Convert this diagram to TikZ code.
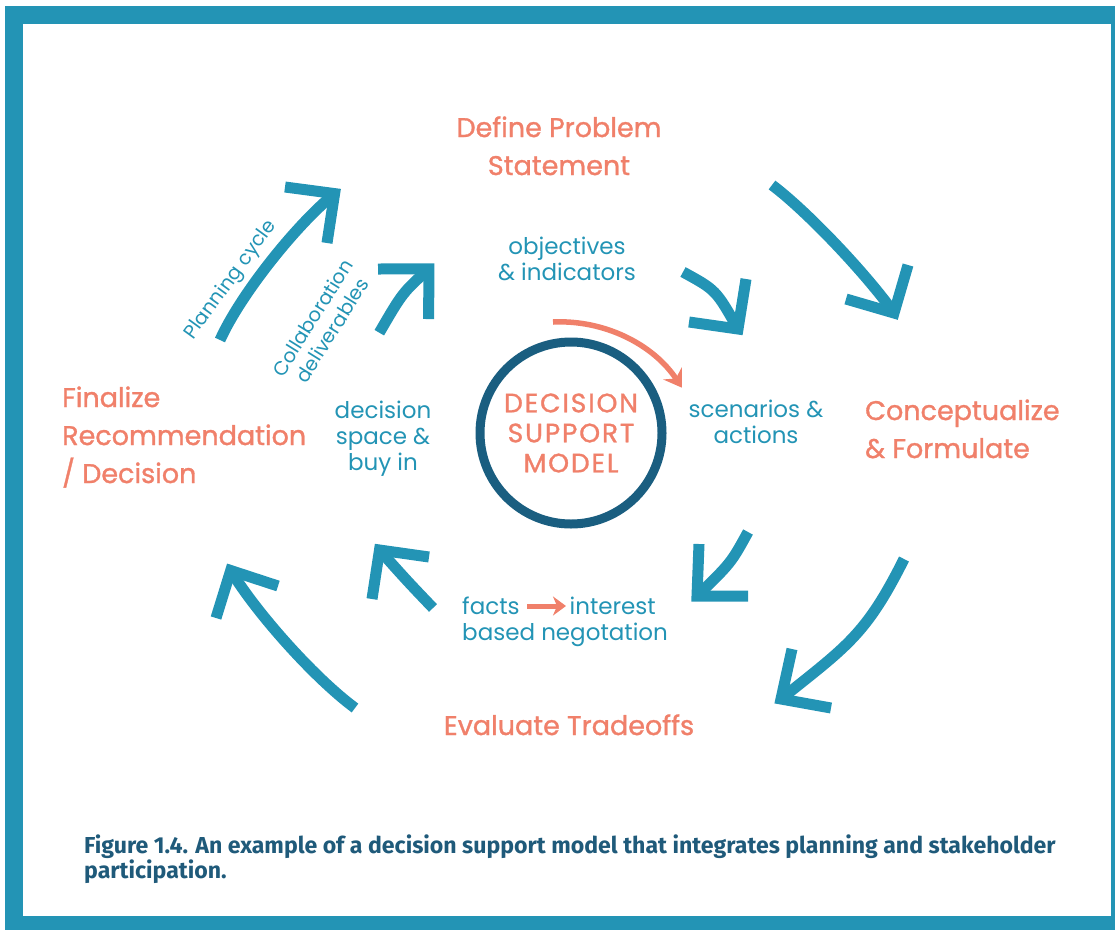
\documentclass[tikz,border=0pt]{standalone}
\usepackage{fontspec}
\setmainfont{Poppins}
\newfontfamily\headfont{Poppins}[FakeBold=1.2]
\newfontfamily\dsmfont{Poppins}[FakeBold=1.2,LetterSpace=7]
\newfontfamily\capfont{Fira Sans}
\usetikzlibrary{arrows.meta}
\definecolor{dsblue}{RGB}{35,148,181}
\definecolor{dsorange}{RGB}{240,128,106}
\definecolor{dsdark}{RGB}{26,94,128}
\definecolor{capcol}{RGB}{31,90,122}
\begin{document}
\begin{tikzpicture}[x=1pt,y=1pt,
  head/.style={text=dsorange, font=\headfont\fontsize{27}{38}\selectfont, inner sep=0pt},
  lab/.style={text=dsblue, font=\fontsize{23}{26}\selectfont, align=center, inner sep=0pt},
  rotlab/.style={text=dsblue, font=\fontsize{19.5}{23}\selectfont, align=center, inner sep=0pt},
  shaft/.style={draw=dsblue, line width=11pt},
  barb/.style={draw=dsblue, line width=11pt, line join=miter, miter limit=10},
  orarrow/.style={draw=dsorange, line width=5.5pt, -{Stealth[length=17pt,width=22pt,inset=6pt]}},
]
\useasboundingbox (0,0) rectangle (1115,-929);
\begin{scope}
\clip (0,0) rectangle (1115,-929);
\draw[dsblue, line width=18pt] (14,-15) rectangle (1120,-925);
\end{scope}

% headers (base anchor = baseline of last line)
\node[head, align=center, anchor=base] (define) at (559,-175) {Define Problem\\Statement};
\node[head, align=left, anchor=base west] (concept) at (865,-458) {Conceptualize\\\& Formulate};
\node[head, align=left, anchor=base west] (final) at (62,-483) {Finalize\\Recommendation\\/ Decision};
\node[head, anchor=base] (eval) at (569,-735) {Evaluate Tradeoffs};

% blue labels
\node[lab, anchor=base] (obj) at (567,-280) {objectives\\\& indicators};
\node[lab, anchor=base] (space) at (383,-470) {decision\\space \&\\buy in};
\node[lab, anchor=base] (scen) at (756,-443) {scenarios \&\\actions};
\node[lab, align=left, anchor=base west] (facts) at (462,-640) {facts\hspace{50pt}interest\\based negotation};
\draw[orarrow, line width=5pt, -{Stealth[length=13pt,width=19pt,inset=4pt]}] (527,-606) -- (566,-606);

% rotated labels
\node[rotlab, rotate=54] (plan) at (231,-280) {Planning cycle};
\node[rotlab, rotate=58] (collab) at (322,-324) {Collaboration\\deliverables};

% central model
\node[circle, draw=dsdark, line width=9pt, minimum size=182pt, inner sep=0pt,
      text=dsorange, align=center, font=\dsmfont\fontsize{26.5}{30}\selectfont] (dsm) at (571,-433)
      {DECISION\\SUPPORT\\MODEL};
\draw[orarrow] (553,-322) arc[start angle=92.7, end angle=33.3, radius=146pt];

% blue arrows
% A1 top right big
\draw[shaft] (772,-185) .. controls (808,-212) and (868,-276) .. (894,-313);
\draw[barb] (846,-299) -- (894,-313) -- (908,-265);
% A2 inner top right
\draw[shaft] (683,-272) .. controls (716,-290) .. (738,-329);
\draw[barb] (689,-322) -- (738,-329) -- (746,-279);
% A3 inner bottom right
\draw[shaft] (748,-532) .. controls (731,-563) .. (697,-596);
\draw[barb] (699,-544) -- (697,-596) -- (748,-596);
% A4 big bottom right
\draw[shaft] (904,-559) .. controls (866,-635) and (847,-646) .. (781,-699);
\draw[barb] (792,-649) -- (781,-699) -- (831,-708);
% A5 inner bottom left
\draw[shaft] (433,-608) .. controls (407.4,-581.2) .. (379.5,-550);
\draw[barb] (372,-599) -- (379.5,-550) -- (429,-557);
% A6 big bottom left
\draw[shaft] (355,-708) .. controls (315,-678.5) and (256.7,-613.5) .. (230.7,-570.5);
\draw[barb] (216,-618) -- (230.7,-570.5) -- (278,-586);
% A7 planning cycle
\draw[shaft] (220,-340) .. controls (240.5,-294.5) and (296,-225) .. (334.6,-193.6);
\draw[barb] (285,-187) -- (334.6,-193.6) -- (327,-243);
% A8 collaboration
\draw[shaft] (379.3,-332.7) .. controls (402.6,-292.6) .. (428.8,-268.9);
\draw[barb] (378,-269) -- (428.8,-268.9) -- (428.7,-319);

% caption
\node[text=capcol, font=\capfont\bfseries\fontsize{23.1}{25}\selectfont, align=left, anchor=base west, inner sep=0pt] (cap) at (84,-878)
  {Figure 1.4. An example of a decision support model that integrates planning and stakeholder\\participation.};
\end{tikzpicture}
\end{document}
